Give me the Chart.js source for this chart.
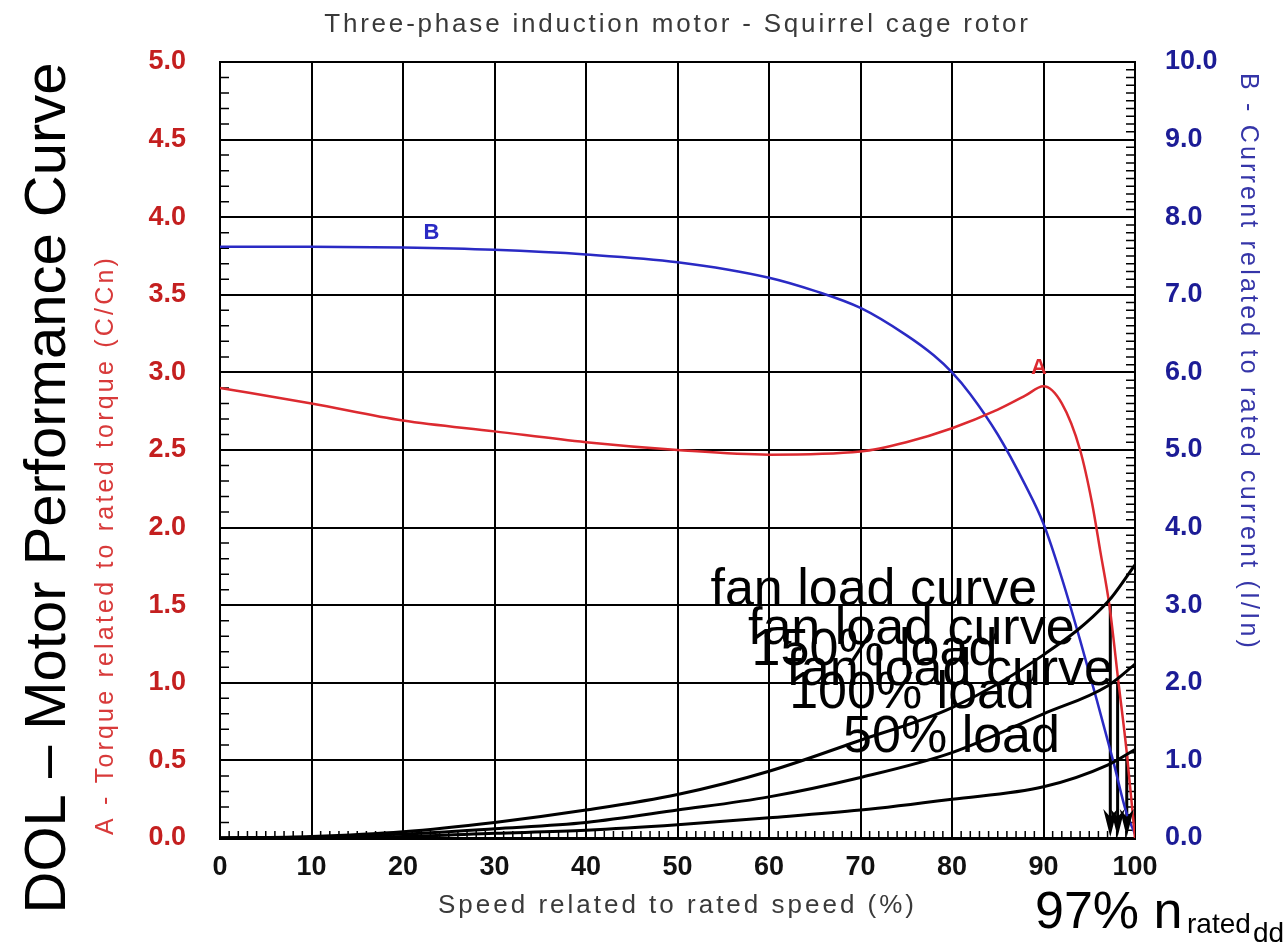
<!DOCTYPE html>
<html>
<head>
<meta charset="utf-8">
<title>DOL – Motor Performance Curve</title>
<script src="https://cdn.jsdelivr.net/npm/chart.js@4.4.1/dist/chart.umd.min.js"></script>
<style>
  html, body { margin: 0; padding: 0; background: #fff; }
  #wrap { width: 1286px; height: 952px; }
</style>
</head>
<body>
<div id="wrap"><canvas id="motorChart" width="1286" height="952"></canvas></div>
<script>
// A - torque (C/Cn) vs speed (% of rated speed)
const torqueSpeed  = [0, 10, 20, 30, 40, 50, 60, 70, 75, 80, 85, 88, 90, 92, 94, 95.3, 96.2, 97.2, 98.2, 99.1, 100];
const torqueValues = [2.9, 2.8, 2.69, 2.62, 2.55, 2.5, 2.47, 2.49, 2.55, 2.64, 2.76, 2.85, 2.91, 2.8, 2.5, 2.16, 1.85, 1.5, 1.0, 0.55, 0.0];

// B - current (I/In) vs speed
const currentSpeed  = [0, 10, 20, 30, 40, 50, 60, 65, 70, 75, 78, 80, 82, 85, 88, 90, 92, 94, 97.6, 99, 100];
const currentValues = [7.62, 7.62, 7.61, 7.58, 7.52, 7.42, 7.22, 7.05, 6.83, 6.48, 6.22, 6.0, 5.72, 5.2, 4.55, 4.05, 3.35, 2.55, 1.0, 0.35, 0.05];

// fan load curves (torque) vs speed
const fanSpeed = [0, 10, 20, 30, 40, 50, 60, 70, 80, 90, 97, 100];
const fan150 = [0, 0.01, 0.04, 0.10, 0.18, 0.28, 0.43, 0.63, 0.84, 1.18, 1.52, 1.76];
const fan100 = [0, 0.005, 0.025, 0.06, 0.10, 0.18, 0.265, 0.39, 0.55, 0.80, 0.98, 1.12];
const fan50  = [0, 0.002, 0.01, 0.03, 0.05, 0.085, 0.13, 0.18, 0.25, 0.33, 0.47, 0.57];

// operating points marked with arrows down to the speed axis
const opSpeed  = [97.3, 98.1, 99.1];
const opTorque = [1.5, 1.0, 0.53];

// tick labels
const speedTicks   = [0, 10, 20, 30, 40, 50, 60, 70, 80, 90, 100];
const torqueTicks  = [0, 0.5, 1.0, 1.5, 2.0, 2.5, 3.0, 3.5, 4.0, 4.5, 5.0];
const currentTicks = [0, 1, 2, 3, 4, 5, 6, 7, 8, 9, 10];

const FONT = "'Liberation Sans', Arial, sans-serif";
const toPoints = (xs, ys) => xs.map((x, i) => ({ x: x, y: ys[i] }));

const fanStyle = {
  borderColor: '#000',
  borderWidth: 3,
  pointRadius: 0,
  cubicInterpolationMode: 'monotone',
  yAxisID: 'yTorque'
};

const datasets = [
  Object.assign({ label: 'fan 150%', data: toPoints(fanSpeed, fan150) }, fanStyle),
  Object.assign({ label: 'fan 100%', data: toPoints(fanSpeed, fan100) }, fanStyle),
  Object.assign({ label: 'fan 50%', data: toPoints(fanSpeed, fan50) }, fanStyle),
  {
    label: 'A - Torque',
    data: toPoints(torqueSpeed, torqueValues),
    borderColor: '#dc2a30',
    borderWidth: 2.5,
    pointRadius: 0,
    cubicInterpolationMode: 'monotone',
    yAxisID: 'yTorque'
  },
  {
    label: 'B - Current',
    data: toPoints(currentSpeed, currentValues),
    borderColor: '#2a2ac4',
    borderWidth: 2.5,
    pointRadius: 0,
    cubicInterpolationMode: 'monotone',
    yAxisID: 'yCurrent'
  }
];

// arrow shafts; heads are drawn by the plugin
opSpeed.forEach((s, i) => {
  datasets.push({
    label: 'arrow ' + i,
    data: [{ x: s, y: opTorque[i] }, { x: s, y: 0.1 }],
    borderColor: '#000',
    borderWidth: 3,
    pointRadius: 0,
    yAxisID: 'yTorque'
  });
});

// text placed in chart units (speed, torque), left aligned at baseline
const noteTexts = [
  { text: 'fan load curve', x: 53.6, y: 1.50 },
  { text: 'fan load curve', x: 57.7, y: 1.25 },
  { text: '150% load',      x: 58.1, y: 1.115 },
  { text: 'fan load curve', x: 61.9, y: 0.986 },
  { text: '100% load',      x: 62.2, y: 0.838 },
  { text: '50% load',       x: 68.1, y: 0.554 }
];

const extrasPlugin = {
  id: 'extras',
  beforeDatasetsDraw(chart) {
    const ctx = chart.ctx;
    const { left, right, bottom } = chart.chartArea;
    const xs = chart.scales.x, yl = chart.scales.yTorque, yr = chart.scales.yCurrent;
    ctx.save();
    ctx.strokeStyle = '#000';
    ctx.lineWidth = 1.5;
    ctx.beginPath();
    // minor ticks on speed axis
    for (let v = 1; v < 100; v++) {
      if (v % 10 === 0) continue;
      const px = xs.getPixelForValue(v);
      ctx.moveTo(px, bottom);
      ctx.lineTo(px, bottom - 7);
    }
    // minor ticks on torque axis
    for (let i = 1; i < 50; i++) {
      if (i % 5 === 0) continue;
      const py = yl.getPixelForValue(i / 10);
      ctx.moveTo(left, py);
      ctx.lineTo(left + 9, py);
    }
    // minor ticks on current axis
    for (let i = 1; i < 100; i++) {
      if (i % 10 === 0) continue;
      const py = yr.getPixelForValue(i / 10);
      ctx.moveTo(right, py);
      ctx.lineTo(right - 9, py);
    }
    ctx.stroke();
    ctx.restore();
  },
  afterDatasetsDraw(chart) {
    // narrow arrow heads at the speed axis
    const ctx = chart.ctx;
    const xs = chart.scales.x, yl = chart.scales.yTorque;
    const tipY = yl.getPixelForValue(0) - 1;
    ctx.save();
    ctx.fillStyle = '#000';
    opSpeed.forEach(s => {
      const px = xs.getPixelForValue(s);
      ctx.beginPath();
      ctx.moveTo(px, tipY);
      ctx.lineTo(px - 7, tipY - 28);
      ctx.lineTo(px, tipY - 20);
      ctx.lineTo(px + 7, tipY - 28);
      ctx.closePath();
      ctx.fill();
    });
    ctx.restore();
  },
  afterDraw(chart) {
    const ctx = chart.ctx;
    const { left, right } = chart.chartArea;
    const xs = chart.scales.x, yl = chart.scales.yTorque, yr = chart.scales.yCurrent;
    const cx = (left + right) / 2;
    ctx.save();

    // chart title
    ctx.fillStyle = '#3a3a3a';
    ctx.font = '26px ' + FONT;
    ctx.letterSpacing = '2.8px';
    ctx.textAlign = 'center';
    ctx.textBaseline = 'alphabetic';
    ctx.fillText('Three-phase induction motor - Squirrel cage rotor', cx, 32);

    // x axis title
    ctx.letterSpacing = '3px';
    ctx.fillText('Speed related to rated speed (%)', cx, 913);

    // left axis title
    ctx.save();
    ctx.translate(113, 545);
    ctx.rotate(-Math.PI / 2);
    ctx.fillStyle = '#d83a3a';
    ctx.font = '25px ' + FONT;
    ctx.letterSpacing = '3.2px';
    ctx.fillText('A - Torque related to rated torque (C/Cn)', 0, 0);
    ctx.restore();

    // right axis title
    ctx.save();
    ctx.translate(1241, 362);
    ctx.rotate(Math.PI / 2);
    ctx.fillStyle = '#3535a8';
    ctx.font = '25px ' + FONT;
    ctx.letterSpacing = '3.2px';
    ctx.fillText('B - Current related to rated current (I/In)', 0, 0);
    ctx.restore();

    // curve letters
    ctx.letterSpacing = '0px';
    ctx.font = 'bold 22px ' + FONT;
    ctx.textBaseline = 'middle';
    ctx.fillStyle = '#dc2a30';
    ctx.fillText('A', xs.getPixelForValue(89.5), yl.getPixelForValue(3.03));
    ctx.fillStyle = '#2a2ac4';
    ctx.fillText('B', xs.getPixelForValue(23.1), yr.getPixelForValue(7.8));

    // big black notes
    ctx.fillStyle = '#000';
    ctx.font = '52px ' + FONT;
    ctx.textAlign = 'left';
    ctx.textBaseline = 'alphabetic';
    noteTexts.forEach(n => {
      ctx.fillText(n.text, xs.getPixelForValue(n.x), yl.getPixelForValue(n.y));
    });

    // 97% n rated
    ctx.font = '52px ' + FONT;
    ctx.fillText('97% n', 1035, 928);
    ctx.font = '28px ' + FONT;
    ctx.fillText('rated', 1187, 933);
    ctx.fillText('dd', 1253, 942);

    // side title
    ctx.save();
    ctx.translate(65, 488);
    ctx.rotate(-Math.PI / 2);
    ctx.font = '58px ' + FONT;
    ctx.textAlign = 'center';
    ctx.fillText('DOL \u2013 Motor Performance Curve', 0, 0);
    ctx.restore();

    ctx.restore();
  }
};

const tickFont = { family: FONT, size: 27, weight: 'bold' };

new Chart(document.getElementById('motorChart'), {
  type: 'line',
  data: { datasets: datasets },
  options: {
    responsive: false,
    animation: false,
    devicePixelRatio: 1,
    layout: { padding: { top: 62, left: 0, right: 0, bottom: 0 } },
    plugins: {
      legend: { display: false },
      tooltip: { enabled: false },
      title: { display: false }
    },
    scales: {
      x: {
        type: 'linear',
        min: 0,
        max: 100,
        afterBuildTicks: s => { s.ticks = speedTicks.map(v => ({ value: v })); },
        afterFit: s => { s.height = 114; },
        grid: { color: '#000', lineWidth: 2, drawTicks: false },
        border: { color: '#000', width: 3 },
        ticks: { font: tickFont, color: '#111', padding: 13, maxRotation: 0, callback: v => String(v) }
      },
      yTorque: {
        type: 'linear',
        position: 'left',
        min: 0,
        max: 5,
        afterBuildTicks: s => { s.ticks = torqueTicks.map(v => ({ value: v })); },
        afterFit: s => { s.width = 220; },
        grid: { color: '#000', lineWidth: 2, drawTicks: false },
        border: { color: '#000', width: 2 },
        ticks: { font: tickFont, color: '#c41f1f', padding: 34, callback: v => v.toFixed(1) }
      },
      yCurrent: {
        type: 'linear',
        position: 'right',
        min: 0,
        max: 10,
        afterBuildTicks: s => { s.ticks = currentTicks.map(v => ({ value: v })); },
        afterFit: s => { s.width = 151; },
        grid: { drawOnChartArea: false, drawTicks: false },
        border: { color: '#000', width: 2 },
        ticks: { font: tickFont, color: '#1c1c96', padding: 30, callback: v => v.toFixed(1) }
      }
    }
  },
  plugins: [extrasPlugin]
});
</script>
</body>
</html>
